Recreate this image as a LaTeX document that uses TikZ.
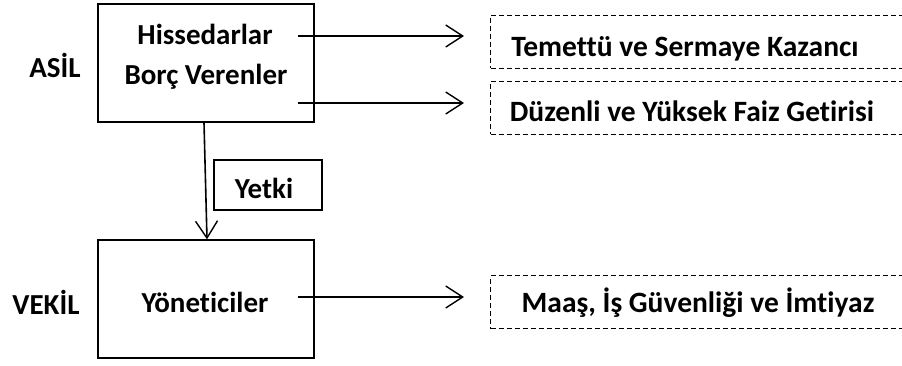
\documentclass[tikz,border=0pt]{standalone}
\usepackage{fontspec}
\setmainfont{Carlito}[Ligatures=NoCommon]
\usetikzlibrary{arrows.meta}
\begin{document}
\begin{tikzpicture}[x=1pt,y=-1pt,
  box/.style={draw,line width=1.4pt,minimum width=216pt,minimum height=118pt,inner sep=0pt},
  dbox/.style={draw,dashed,dash pattern=on 5pt off 3pt,line width=1pt,minimum width=440pt,minimum height=53pt,inner sep=0pt,anchor=west},
  arr/.style={line width=1.6pt,-{Straight Barb[length=17pt,width=22pt,line width=1.4pt]}},
  lbl/.style={font=\bfseries\fontsize{29}{34}\selectfont,anchor=base,inner sep=0pt},
  rlbl/.style={font=\bfseries\fontsize{29.5}{34}\selectfont,anchor=base,inner sep=0pt}]
\useasboundingbox (0,0) rectangle (902,365);
\clip (0,0) rectangle (902,365);
\fill[white] (0,0) rectangle (902,365);
\node[box] (top) at (206,63) {};
\node[box] (bot) at (206,299) {};
\node[draw,line width=1.4pt,minimum width=108pt,minimum height=50pt,inner sep=0pt] (yb) at (268,185) {};
\node[lbl] (h1) at (205,44) {Hissedarlar};
\node[lbl] (h2) at (206,84) {Borç Verenler};
\node[lbl] (asil) at (55,77) {ASİL};
\node[lbl] (yt) at (264,198) {Yetki};
\node[lbl] (yon) at (205,312) {Yöneticiler};
\node[lbl] (vek) at (46,314) {VEKİL};
\node[dbox] (d1) at (490,41.5) {};
\node[dbox] (d2) at (490,107.5) {};
\node[dbox] (d3) at (490,302) {};
\node[rlbl] at (685,56) {Temettü ve Sermaye Kazancı};
\node[rlbl] at (692,121) {Düzenli ve Yüksek Faiz Getirisi};
\node[rlbl] at (698,312) {Maaş, İş Güvenliği ve İmtiyaz};
\coordinate (s1) at (298,36);
\coordinate (s2) at (298,103);
\coordinate (s3) at (298,297);
\draw[arr,shorten >=26pt] (s1) -- (s1 -| d1.west);
\draw[arr,shorten >=26pt] (s2) -- (s2 -| d2.west);
\draw[arr,shorten >=26pt] (s3) -- (s3 -| d3.west);
\draw[arr] ([xshift=-2pt]top.south) -- ([xshift=1pt]bot.north);
\end{tikzpicture}
\end{document}
